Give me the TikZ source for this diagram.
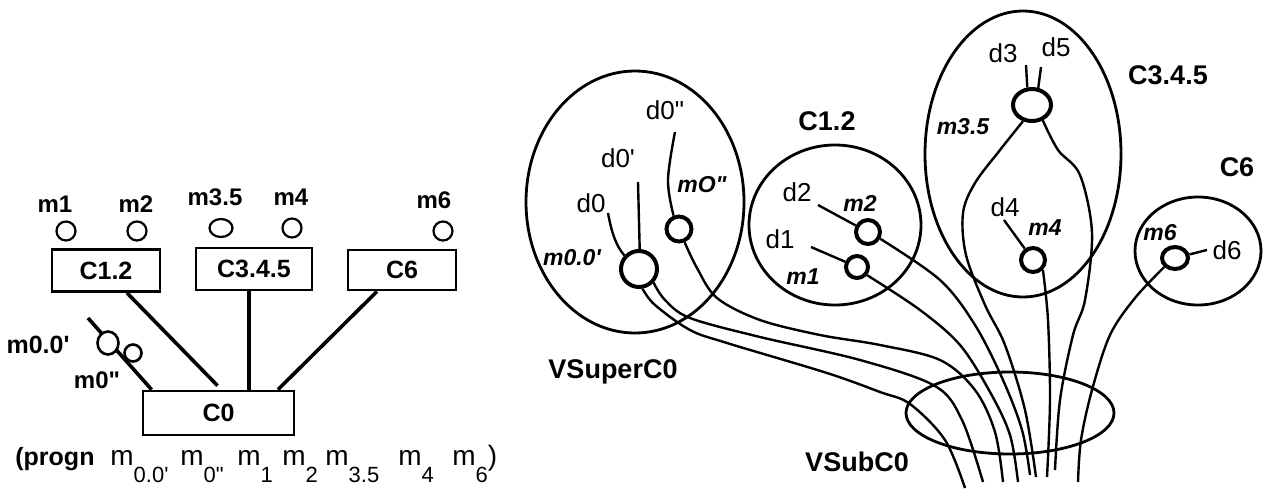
\documentclass[tikz,border=0pt]{standalone}
\usepackage{fontspec}
\setmainfont{Liberation Sans}
\usetikzlibrary{shapes.geometric,calc}
\newcommand\mysub[1]{\raisebox{-8.5pt}{\fontsize{11}{11}\selectfont #1}}
\newcommand\sq{\textquotesingle}
\newcommand\dq{\textquotedbl}
\begin{document}
\begin{tikzpicture}[x=0.5pt,y=-0.5pt,
  every node/.style={inner sep=0pt},
  cbox/.style={draw,line width=1.4pt,minimum height=21pt,font=\fontsize{12.5}{12.5}\selectfont\bfseries},
  lm/.style={font=\fontsize{12}{12}\selectfont\bfseries},
  smallc/.style={draw,circle,line width=1.1pt,minimum size=9.5pt,fill=white},
  conn/.style={line width=1.8pt},
  bigell/.style={draw,ellipse,line width=1.4pt},
  thk/.style={draw,circle,line width=2pt,fill=white},
  thke/.style={draw,ellipse,line width=2pt,fill=white},
  dl/.style={font=\fontsize{13}{13}\selectfont},
  mi/.style={font=\fontsize{11.5}{11.5}\selectfont\bfseries\itshape},
  bl/.style={font=\fontsize{13.5}{13.5}\selectfont\bfseries},
  wire/.style={line width=1.2pt},
  bt/.style={anchor=base west,font=\fontsize{14}{14}\selectfont}
]
\useasboundingbox (0,0) rectangle (1270,488);

% ---------------- left panel ----------------
\node[cbox,minimum width=54pt] (c12) at (106,270.5) {C1.2};
\node[cbox,minimum width=58pt] (c345) at (254,269) {C3.4.5};
\node[cbox,minimum width=54pt,minimum height=20pt] (c6) at (402,270) {C6};
\node[cbox,minimum width=75.5pt,minimum height=22pt] (c0) at (218.5,413) {C0};

\node[lm] (lm1) at (55,204) {m1};
\node[lm] (lm2) at (136,204) {m2};
\node[lm] (lm35) at (215,197) {m3.5};
\node[lm] (lm4) at (291,197) {m4};
\node[lm] (lm6) at (434,200) {m6};
\node[smallc] (cm1) at (66,231) {};
\node[smallc] (cm2) at (137,231) {};
\node[smallc,ellipse,minimum width=11.5pt,minimum height=9pt] (cm35) at (221,228) {};
\node[smallc] (cm4) at (292,228) {};
\node[smallc] (cm6) at (443,231) {};

\draw[conn] ([xshift=10.5pt]c12.south) -- ([xshift=-0.5pt,yshift=2pt]c0.north);
\draw[conn] ([xshift=-2.5pt]c345.south) -- ([xshift=15.25pt]c0.north);
\draw[conn] ([xshift=-12.5pt]c6.south) -- ([xshift=29.75pt]c0.north);
\coordinate (m0top) at (88,318);
\draw[conn] (m0top) -- ([xshift=5pt]c0.north west);
\node[draw,ellipse,line width=1.3pt,fill=white,minimum width=10.5pt,minimum height=11.5pt] (cm00) at (108,343) {};
\node[draw,circle,line width=1.3pt,fill=white,minimum size=8.5pt] (cm0b) at (133,353) {};
\node[font=\fontsize{12.5}{12.5}\selectfont\bfseries] (lm00) at (38,345) {m0.0\sq};
\node[lm] (lm0b) at (97,380) {m0\dq};

\node[anchor=base west,font=\fontsize{12.5}{12.5}\selectfont\bfseries] (pg) at (15,465) {(progn};
\node[bt] (s1) at (110,465) {m\mysub{0.0\sq}};
\node[bt] (s2) at (180,465) {m\mysub{0\dq}};
\node[bt] (s3) at (237,465) {m\mysub{1}};
\node[bt] (s4) at (282,465) {m\mysub{2}};
\node[bt] (s5) at (325,465) {m\mysub{3.5}};
\node[bt] (s6) at (398,465) {m\mysub{4}};
\node[bt] (s7) at (452,465) {m\mysub{6})};

% ---------------- right panel ----------------
\node[bigell,minimum width=109pt,minimum height=131pt] (vsup) at (635,202) {};
\node[bigell,minimum width=86pt,minimum height=80pt] (e12) at (835,225) {};
\node[bigell,minimum width=98pt,minimum height=143pt] (e345) at (1023,154) {};
\node[bigell,minimum width=63pt,minimum height=54pt] (e6) at (1198,251) {};
\node[bigell,minimum width=104pt,minimum height=41pt] (vsub) at (1010,413) {};

\node[bl] (tsup) at (613,372) {VSuperC0};
\node[bl] (tsub) at (857,462) {VSubC0};
\node[bl] (t12) at (827,121) {C1.2};
\node[bl] (t345) at (1168,75) {C3.4.5};
\node[bl] (t6) at (1237,167) {C6};

% circles
\node[thk,minimum size=18pt] (m00r) at (639,269) {};
\node[thk,minimum size=12.5pt] (mOr) at (679,229) {};
\node[thk,minimum size=12pt] (m2r) at (868,232) {};
\node[thk,minimum size=11pt] (m1r) at (857,267) {};
\node[thke,minimum width=19pt,minimum height=16pt] (m35r) at (1032,105) {};
\node[thk,minimum size=12pt] (m4r) at (1033,260) {};
\node[thke,minimum width=13pt,minimum height=11pt] (m6r) at (1175,258) {};

% labels
\node[dl] (d0b) at (665,110) {d0\dq};
\node[dl] (d0a) at (618,158) {d0\sq};
\node[dl] (d0) at (591,203) {d0};
\node[mi] (lmO) at (702,185) {mO\dq};
\node[mi] (lm00r) at (572,258) {m0.0\sq};
\node[dl] (d2) at (797,192) {d2};
\node[dl] (d1) at (780,239) {d1};
\node[mi] (lm2r) at (860,203) {m2};
\node[mi] (lm1r) at (803,277) {m1};
\node[dl] (d3) at (1003,53) {d3};
\node[dl] (d5) at (1056,47) {d5};
\node[mi] (lm35r) at (963,127) {m3.5};
\node[dl] (d4) at (1005,207) {d4};
\node[mi] (lm4r) at (1045,228) {m4};
\node[mi] (lm6r) at (1160,233) {m6};
\node[dl] (d6) at (1227,250) {d6};

% short wires
\coordinate (w0) at (608,213);
\coordinate (w0a) at (638,182);
\coordinate (w0b) at (675,132);
\coordinate (w2) at (818,205);
\coordinate (w1) at (811,247);
\coordinate (w3) at (1026,65);
\coordinate (w5) at (1041,67);
\coordinate (w4) at (1004,220);
\coordinate (w6) at (1207,250);
\draw[wire] (w0) .. controls (612,235) and (617,247) .. (m00r.137);
\draw[wire] (w0a) -- (m00r.88);
\draw[wire] plot[smooth,tension=0.6] coordinates {(w0b) (668,180) (mOr.112)};
\draw[wire] (w2) -- (m2r.152);
\draw[wire] (w1) -- (m1r.156);
\draw[wire] (w3) -- (m35r.105);
\draw[wire] (w5) -- (m35r.70);
\draw[wire] (w4) -- (m4r.126);
\draw[wire] (w6) -- (m6r.14);

% long wires to VSubC0
\coordinate (b1) at (965,488);
\coordinate (b2) at (983,482);
\coordinate (b3) at (1003,482);
\coordinate (b4) at (1018,482);
\coordinate (b5) at (1030,475);
\coordinate (b6) at (1036,477);
\coordinate (b7) at (1047,477);
\coordinate (b8) at (1055,470);
\coordinate (b9) at (1078,482);
\draw[wire] plot[smooth,tension=0.55] coordinates {(m00r.-80) (655,305) (690,330) (727,343) (827,373) (880,392) (910,404) (945,440) (b1)};
\draw[wire] plot[smooth,tension=0.55] coordinates {(m00r.-43) (665,300) (690,318) (760,337) (860,360) (935,386) (962,420) (b2)};
\draw[wire] plot[smooth,tension=0.55] coordinates {(mOr.-67) (697,268) (717,298) (760,320) (820,335) (880,345) (940,360) (975,390) (995,432) (b3)};
\draw[wire] plot[smooth,tension=0.55] coordinates {(m1r.-39) (920,310) (960,345) (990,392) (1010,435) (b4)};
\draw[wire] plot[smooth,tension=0.55] coordinates {(m2r.-29) (940,280) (975,325) (1003,380) (1022,430) (b5)};
\draw[wire] plot[smooth,tension=0.55] coordinates {(m35r.-119) (1000,150) (975,183) (963,213) (966,255) (985,305) (1005,345) (1025,410) (b6)};
\draw[wire] plot[smooth,tension=0.55] coordinates {(m4r.-45) (1048,320) (1050,400) (b7)};
\draw[wire] plot[smooth,tension=0.55] coordinates {(m35r.-55) (1058,150) (1080,175) (1092,233) (1085,300) (1073,335) (1060,400) (b8)};
\draw[wire] plot[smooth,tension=0.55] coordinates {(m6r.-140) (1135,298) (1110,335) (1092,390) (1081,440) (b9)};
\end{tikzpicture}
\end{document}
